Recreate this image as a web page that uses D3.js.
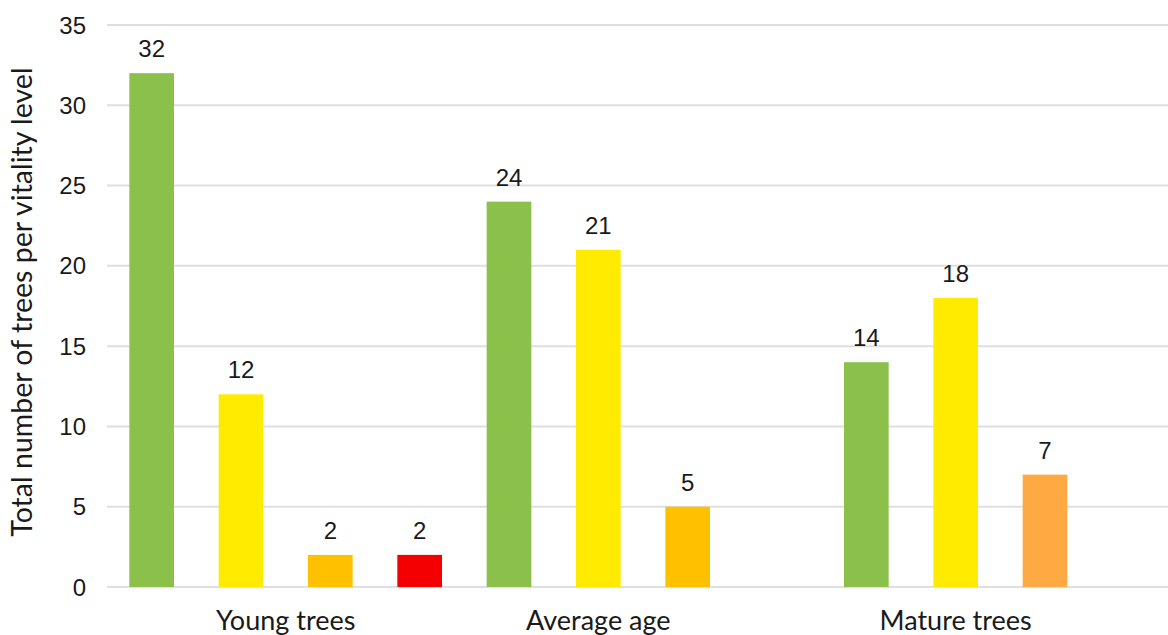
<!DOCTYPE html>
<meta charset="utf-8">
<script src="https://d3js.org/d3.v7.min.js"></script>
<style>
  body { margin: 0; background: #fff; }
  text { font-family: "Liberation Sans", Arial, sans-serif; fill: #1a1a1a; }
</style>
<div id="my_dataviz"></div>
<script>

// data
var categories = ["Young trees", "Average age", "Mature trees"];
var levels = ["Level 1", "Level 2", "Level 3", "Level 4"];   // vitality levels (4 slots per group)
var young   = [32, 12, 2, 2];
var average = [24, 21, 5, null];
var mature  = [14, 18, 7, null];
var barColors = [
  ["#8bc04b", "#ffeb00", "#ffc000", "#f50000"],
  ["#8bc04b", "#ffeb00", "#ffc000", "#f50000"],
  ["#8bc04b", "#ffeb00", "#ffa943", "#f50000"]
];
var yTicks = [0, 5, 10, 15, 20, 25, 30, 35];

var series = [young, average, mature];

var width = 1168, height = 635;
var margin = {top: 25, left: 107, bottom: 48};

var svg = d3.select("#my_dataviz")
  .append("svg")
    .attr("width", width)
    .attr("height", height);

// flat list of slots: one per category x level
var slots = [];
categories.forEach(function(c, i) {
  levels.forEach(function(l, j) {
    slots.push({cat: c, ci: i, lvl: j, key: c + "|" + l, value: series[i][j], color: barColors[i][j]});
  });
});

var x = d3.scaleBand()
    .domain(slots.map(function(d) { return d.key; }))
    .range([margin.left, 1179])
    .paddingInner(0.5)
    .paddingOuter(0.25);

var y = d3.scaleLinear()
    .domain([0, 35])
    .range([height - margin.bottom, margin.top]);

// gridlines
svg.append("g")
  .selectAll("line")
  .data(yTicks)
  .enter()
  .append("line")
    .attr("x1", margin.left)
    .attr("x2", width)
    .attr("y1", function(d) { return y(d); })
    .attr("y2", function(d) { return y(d); })
    .style("stroke", "#dcdfe6")
    .style("stroke-width", 2);

// y tick labels
svg.append("g")
  .selectAll("text")
  .data(yTicks)
  .enter()
  .append("text")
    .attr("x", 86)
    .attr("y", function(d) { return y(d); })
    .attr("dy", "0.36em")
    .style("text-anchor", "end")
    .style("font-size", "24px")
    .text(function(d) { return d; });

var bars = slots.filter(function(d) { return d.value != null; });

svg.append("g")
  .selectAll("rect")
  .data(bars)
  .enter()
  .append("rect")
    .attr("x", function(d) { return x(d.key); })
    .attr("y", function(d) { return y(d.value); })
    .attr("width", x.bandwidth())
    .attr("height", function(d) { return y(0) - y(d.value); })
    .style("fill", function(d) { return d.color; });

// value labels
svg.append("g")
  .selectAll("text")
  .data(bars)
  .enter()
  .append("text")
    .attr("x", function(d) { return x(d.key) + x.bandwidth() / 2; })
    .attr("y", function(d) { return y(d.value) - 16; })
    .style("text-anchor", "middle")
    .style("font-size", "24px")
    .text(function(d) { return d.value; });

// category labels centered under the bars that are drawn
svg.append("g")
  .selectAll("text")
  .data(categories)
  .enter()
  .append("text")
    .attr("x", function(c) {
      var b = bars.filter(function(d) { return d.cat === c; });
      return (x(b[0].key) + x(b[b.length - 1].key) + x.bandwidth()) / 2;
    })
    .attr("y", 630)
    .style("text-anchor", "middle")
    .style("font-family", "Lato, 'Open Sans', sans-serif")
    .style("font-size", "27px")
    .text(function(d) { return d; });

// y axis title
svg.append("text")
  .attr("transform", "rotate(-90)")
  .attr("x", -302)
  .attr("y", 32)
  .style("text-anchor", "middle")
  .style("font-family", "Lato, 'Open Sans', sans-serif")
  .style("font-size", "28.5px")
  .text("Total number of trees per vitality level");

</script>
